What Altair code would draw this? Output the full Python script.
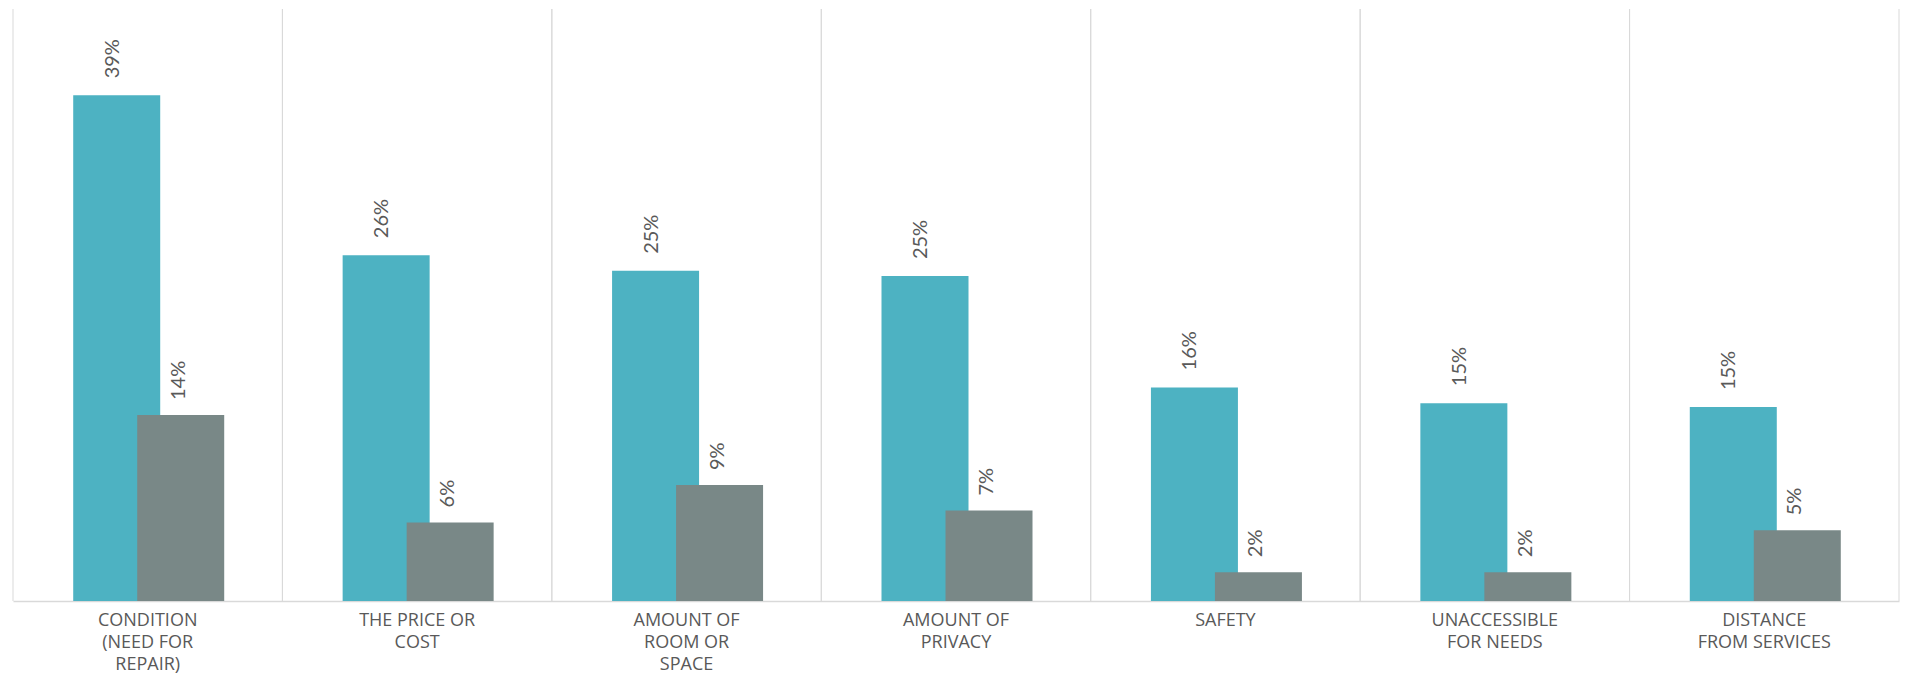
import altair as alt
import pandas as pd

categories = [
    "CONDITION\n(NEED FOR\nREPAIR)",
    "THE PRICE OR\nCOST",
    "AMOUNT OF\nROOM OR\nSPACE",
    "AMOUNT OF\nPRIVACY",
    "SAFETY",
    "UNACCESSIBLE\nFOR NEEDS",
    "DISTANCE\nFROM SERVICES",
]
teal_values = [0.386, 0.264, 0.252, 0.248, 0.163, 0.151, 0.148]
grey_values = [0.142, 0.060, 0.0885, 0.069, 0.022, 0.022, 0.054]

TEAL = "#4DB2C2"
GREY = "#798887"
TXT = "#595959"
GRID = "#d9d9d9"

df = pd.DataFrame({"cat": categories, "teal": teal_values, "grey": grey_values})

xscale = alt.Scale(paddingInner=0, paddingOuter=0)
yscale = alt.Scale(domain=[0, 0.4519], nice=False, zero=True)

x_axis = alt.Axis(
    title=None,
    ticks=False,
    grid=False,
    domain=True,
    domainColor=GRID,
    domainWidth=1.5,
    bandPosition=0.5,
    labelAngle=0,
    labelColor=TXT,
    labelFont="Open Sans",
    labelFontSize=18,
    labelLineHeight=22,
    labelPadding=10,
    labelExpr="split(datum.value, '\\n')",
)

base = alt.Chart(df)

rule_left = base.mark_rule(color=GRID, strokeWidth=1).encode(
    x=alt.X("cat:N", sort=categories, scale=xscale, bandPosition=0, axis=x_axis)
)
rule_right = base.mark_rule(color=GRID, strokeWidth=1).encode(
    x=alt.X("cat:N", sort=categories, scale=xscale, bandPosition=1, axis=x_axis)
)

teal_bar = base.mark_bar(color=TEAL, width=87, xOffset=-31).encode(
    x=alt.X("cat:N", sort=categories, scale=xscale, axis=x_axis),
    y=alt.Y("teal:Q", scale=yscale, axis=None),
)
grey_bar = base.mark_bar(color=GREY, width=87, xOffset=33).encode(
    x=alt.X("cat:N", sort=categories, scale=xscale, axis=x_axis),
    y=alt.Y("grey:Q", scale=yscale, axis=None),
)

teal_txt = base.mark_text(
    angle=270, align="left", baseline="middle", dx=17, dy=-4, xOffset=-31,
    font="Lato", fontSize=20, color=TXT,
).encode(
    x=alt.X("cat:N", sort=categories, scale=xscale, axis=x_axis),
    y=alt.Y("teal:Q", scale=yscale, axis=None),
    text=alt.Text("teal:Q", format=".0%"),
)
grey_txt = base.mark_text(
    angle=270, align="left", baseline="middle", dx=15, dy=-2, xOffset=33,
    font="Lato", fontSize=20, color=TXT,
).encode(
    x=alt.X("cat:N", sort=categories, scale=xscale, axis=x_axis),
    y=alt.Y("grey:Q", scale=yscale, axis=None),
    text=alt.Text("grey:Q", format=".0%"),
)

chart = (
    alt.layer(rule_left, rule_right, teal_bar, grey_bar, teal_txt, grey_txt)
    .properties(
        width=1886,
        height=592,
        padding={"left": 4, "top": 0, "right": 0, "bottom": 6},
    )
    .configure_view(stroke=None)
)

chart.save("out.html", embed_options={"renderer": "svg", "actions": False})
